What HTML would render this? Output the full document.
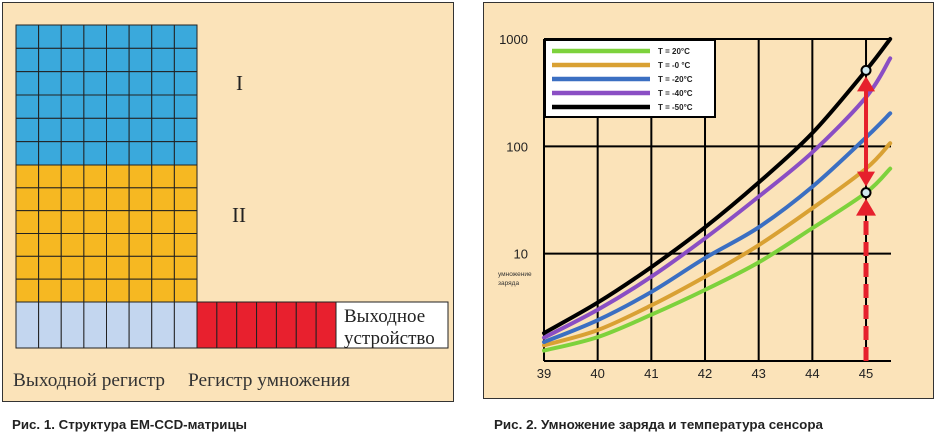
<!DOCTYPE html>
<html><head><meta charset="utf-8"><style>
body{margin:0;background:#fff;width:939px;height:434px;overflow:hidden}
svg{display:block}
</style></head><body>
<svg id="s" width="939" height="434" xmlns="http://www.w3.org/2000/svg" font-family="Liberation Sans, sans-serif">
<g>
<rect x="2.5" y="2.5" width="451" height="399" fill="#fbe3b9" stroke="#333" stroke-width="1"/>
<g id="grid1"></g>
<rect x="336" y="302" width="112" height="46" fill="#fff" stroke="#222" stroke-width="1"/>
<text x="344" y="322" font-family="Liberation Serif, serif" font-size="19" fill="#222">Выходное</text>
<text x="344" y="344" font-family="Liberation Serif, serif" font-size="19" fill="#222">устройство</text>
<text x="236" y="90" font-family="Liberation Serif, serif" font-size="21" fill="#222">I</text>
<text x="232" y="222" font-family="Liberation Serif, serif" font-size="21" fill="#222">II</text>
<text x="13" y="386" font-family="Liberation Serif, serif" font-size="19" fill="#333" textLength="152" lengthAdjust="spacingAndGlyphs">Выходной регистр</text>
<text x="188" y="386" font-family="Liberation Serif, serif" font-size="19" fill="#333" textLength="162" lengthAdjust="spacingAndGlyphs">Регистр умножения</text>
<text x="12" y="429" font-size="13" font-weight="bold" fill="#222" textLength="235" lengthAdjust="spacingAndGlyphs">Рис. 1. Структура EM-CCD-матрицы</text>
</g>
<g>
<rect x="483.5" y="2.5" width="450" height="396" fill="#fbe3b9" stroke="#333" stroke-width="1"/>
<g id="axes"></g>
<g id="curves"></g>
<g id="arrows"></g>
<g id="legend"></g>
<text x="498" y="276" font-size="6.5" fill="#333">умножение</text>
<text x="498" y="285" font-size="6.5" fill="#333">заряда</text>
<text x="494" y="429" font-size="13" font-weight="bold" fill="#222" textLength="329" lengthAdjust="spacingAndGlyphs">Рис. 2. Умножение заряда и температура сенсора</text>
</g>
</svg>
<script>
const NS='http://www.w3.org/2000/svg';
function mk(tag,attrs,parent){const e=document.createElementNS(NS,tag);for(const k in attrs)e.setAttribute(k,attrs[k]);parent.appendChild(e);return e;}
const g1=document.getElementById('grid1');
for(let r=0;r<12;r++){for(let c=0;c<8;c++){
  const y0=r<6?25+r*140/6:165+(r-6)*137/6, h=r<6?140/6:137/6;
  const e=mk('rect',{x:16+c*181/8,y:y0,width:181/8,height:h,fill:r<6?'#3aa9dc':'#f6b822',stroke:'#222','stroke-width':1},g1);
  
  
}}
for(let c=0;c<8;c++){const e=mk('rect',{x:16+c*181/8,y:302,width:181/8,height:46,fill:'#c3d6ef',stroke:'#222','stroke-width':1},g1);
  
  }
for(let c=0;c<7;c++){const e=mk('rect',{x:197+c*139/7,y:302,width:139/7,height:46,fill:'#e8202e',stroke:'#222','stroke-width':1},g1);
  
  }

const xValues=[39,40,41,42,43,44,45,45.45];
const seriesNames=['T = 20°C','T = -0 °C','T = -20°C','T = -40°C','T = -50°C'];
const seriesColors=['#7dd23c','#d9a133','#3b6fc2','#8a4ec4','#000'];
const green=[1.25,1.67,2.7,4.6,8.3,17.3,37,62];
const orange=[1.4,1.94,3.3,6.1,12,26.5,62,107];
const blue=[1.5,2.4,4.4,9.1,17.6,42,121,203];
const purple=[1.65,3.0,6.1,13.9,34,88,287,660];
const black=[1.82,3.5,7.5,17.6,46,133,510,1000];
const series=[green,orange,blue,purple,black];
const xTicks=[39,40,41,42,43,44,45];
const yTicks=[1,10,100,1000];
const yTickLabels=['','10','100','1000'];
const markerX=45, markerHigh=510, markerLow=37;

const X=v=>544+(v-39)*53.67;
const Y=v=>361-Math.log10(v)*107.33;
const ax=document.getElementById('axes');
xTicks.forEach((t,i)=>{
  if(i>0){const l=mk('line',{x1:X(t),x2:X(t),y1:Y(1000),y2:Y(1),stroke:'#000','stroke-width':2},ax);
  
  }
  const tx=mk('text',{x:X(t),y:378,'text-anchor':'middle','font-size':13,fill:'#222'},ax);tx.textContent=t;
  
  
});
yTicks.forEach((t,i)=>{
  const l=mk('line',{x1:X(39),x2:891,y1:Y(t),y2:Y(t),stroke:'#000','stroke-width':2},ax);
  
  
  if(yTickLabels[i]){const tx=mk('text',{x:528,y:Y(t)+5,'text-anchor':'end','font-size':13,fill:'#222'},ax);tx.textContent=yTickLabels[i];
  
  }
});
const la=mk('line',{x1:X(39),x2:X(39),y1:Y(1000),y2:Y(1),stroke:'#000','stroke-width':2},ax);



function catmull(pts){let d='M'+pts[0][0]+','+pts[0][1];
  for(let i=0;i<pts.length-1;i++){const p0=pts[Math.max(0,i-1)],p1=pts[i],p2=pts[i+1],p3=pts[Math.min(pts.length-1,i+2)];
    d+=' C'+(p1[0]+(p2[0]-p0[0])/6)+','+(p1[1]+(p2[1]-p0[1])/6)+' '+(p2[0]-(p3[0]-p1[0])/6)+','+(p2[1]-(p3[1]-p1[1])/6)+' '+p2[0]+','+p2[1];}
  return d;}
const cg=document.getElementById('curves');
series.forEach((s,k)=>{
  const pts=s.map((v,i)=>[X(xValues[i]),Y(v)]);
  const p=mk('path',{d:catmull(pts),fill:'none',stroke:seriesColors[k],'stroke-width':4,'stroke-linecap':'round'},cg);
  
  
});
const ar=document.getElementById('arrows');
const red='#e6202c';
const ds=mk('line',{x1:X(markerX),x2:X(markerX),y1:Y(1),y2:Y(markerLow)+22,stroke:red,'stroke-width':5,'stroke-dasharray':'14,7'},ar);


const h1=mk('polygon',{points:`${X(markerX)-10},${Y(markerLow)+23} ${X(markerX)+10},${Y(markerLow)+23} ${X(markerX)},${Y(markerLow)+6}`,fill:red},ar);


const sl=mk('line',{x1:X(markerX),x2:X(markerX),y1:Y(markerHigh)+18,y2:Y(markerLow)-18,stroke:red,'stroke-width':4},ar);


const h2=mk('polygon',{points:`${X(markerX)-9},${Y(markerHigh)+21} ${X(markerX)+9},${Y(markerHigh)+21} ${X(markerX)},${Y(markerHigh)+6}`,fill:red},ar);


const h3=mk('polygon',{points:`${X(markerX)-9},${Y(markerLow)-21} ${X(markerX)+9},${Y(markerLow)-21} ${X(markerX)},${Y(markerLow)-6}`,fill:red},ar);


[markerHigh,markerLow].forEach(v=>{
  const c=mk('circle',{cx:X(markerX),cy:Y(v),r:4.5,fill:'#cfe8ee',stroke:'#000','stroke-width':2},ar);
  
  
});
const lg=document.getElementById('legend');
const lr=mk('rect',{x:545,y:40,width:170,height:77,fill:'#fff',stroke:'#000','stroke-width':2},lg);


seriesNames.forEach((n,k)=>{
  const y=51+k*14;
  const l=mk('line',{x1:552,x2:650,y1:y,y2:y,stroke:seriesColors[k],'stroke-width':4.5},lg);
  
  
  const t=mk('text',{x:658,y:y+3,'font-size':8,'font-weight':'bold',fill:'#222'},lg);t.textContent=n;
  
  
});
</script>
</body></html>
